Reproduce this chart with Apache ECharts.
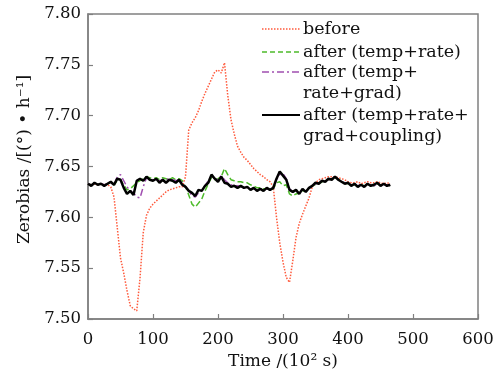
<!DOCTYPE html>
<html>
<head>
<meta charset="utf-8">
<script src="https://cdn.jsdelivr.net/npm/echarts@6/dist/echarts.min.js"></script>
<style>
html,body{margin:0;padding:0;background:#fff;}
#chart{width:499px;height:378px;}
</style>
</head>
<body>
<div id="chart"></div>
<script>
// Time axis (units of 10^2 s)
const times = [0,5,10,15,20,25,30,35,40,45,50,55,60,65,70,75,80,85,90,95,
  100,105,110,115,120,125,130,135,140,145,150,155,160,165,170,175,180,185,190,195,
  200,205,210,215,220,225,230,235,240,245,250,255,260,265,270,275,280,285,290,295,
  300,305,310,315,320,325,330,335,340,345,350,355,360,365,370,375,380,385,390,395,
  400,405,410,415,420,425,430,435,440,445,450,455,460,465];

const beforeVals = [7.633,7.632,7.633,7.632,7.633,7.632,7.632,7.630,7.620,7.590,
  7.560,7.545,7.528,7.513,7.510,7.508,7.540,7.585,7.602,7.609,
  7.613,7.616,7.619,7.622,7.625,7.627,7.628,7.629,7.630,7.630,
  7.640,7.686,7.693,7.698,7.705,7.714,7.722,7.729,7.736,7.743,
  7.745,7.742,7.752,7.720,7.696,7.682,7.670,7.664,7.659,7.656,
  7.652,7.648,7.645,7.642,7.640,7.637,7.635,7.630,7.600,7.575,
  7.556,7.541,7.536,7.557,7.580,7.594,7.603,7.611,7.619,7.630,
  7.634,7.637,7.638,7.639,7.640,7.640,7.640,7.639,7.638,7.637,
  7.635,7.634,7.634,7.635,7.633,7.634,7.635,7.634,7.634,7.635,
  7.634,7.633,7.634,7.633];

const tempRateVals = [7.633,7.632,7.634,7.632,7.633,7.632,7.633,7.634,7.632,7.636,
  7.637,7.632,7.627,7.628,7.631,7.634,7.636,7.638,7.640,7.639,
  7.638,7.639,7.637,7.639,7.638,7.637,7.639,7.637,7.638,7.636,
  7.630,7.622,7.613,7.610,7.614,7.618,7.626,7.633,7.639,7.637,
  7.638,7.640,7.648,7.642,7.637,7.636,7.635,7.635,7.634,7.634,
  7.632,7.631,7.629,7.629,7.628,7.628,7.627,7.628,7.634,7.635,
  7.631,7.632,7.623,7.621,7.623,7.624,7.626,7.626,7.628,7.631,
  7.632,7.633,7.635,7.636,7.637,7.638,7.639,7.638,7.635,7.634,
  7.633,7.632,7.632,7.631,7.632,7.631,7.632,7.632,7.631,7.633,
  7.632,7.632,7.632,7.631];

const tempRateGradVals = [7.633,7.632,7.634,7.632,7.633,7.632,7.633,7.634,7.632,7.640,
  7.642,7.636,7.630,7.626,7.624,7.620,7.619,7.630,7.639,7.638,
  7.637,7.637,7.636,7.637,7.638,7.637,7.637,7.636,7.637,7.634,
  7.630,7.626,7.621,7.620,7.624,7.627,7.631,7.636,7.641,7.638,
  7.637,7.641,7.637,7.634,7.632,7.631,7.631,7.630,7.630,7.629,
  7.628,7.628,7.627,7.628,7.627,7.628,7.627,7.627,7.637,7.642,
  7.643,7.638,7.628,7.625,7.626,7.624,7.627,7.626,7.628,7.631,
  7.633,7.634,7.635,7.636,7.637,7.638,7.639,7.638,7.635,7.634,
  7.633,7.632,7.632,7.631,7.632,7.631,7.632,7.632,7.631,7.633,
  7.632,7.632,7.632,7.631];

const couplingVals = [7.633,7.631,7.634,7.632,7.633,7.631,7.633,7.635,7.632,7.638,
  7.637,7.629,7.623,7.626,7.622,7.636,7.638,7.636,7.640,7.637,
  7.636,7.638,7.634,7.637,7.634,7.637,7.636,7.634,7.637,7.632,
  7.630,7.626,7.624,7.621,7.627,7.626,7.631,7.634,7.642,7.638,
  7.635,7.640,7.634,7.633,7.630,7.631,7.629,7.631,7.629,7.630,
  7.627,7.629,7.626,7.628,7.626,7.629,7.627,7.629,7.638,7.645,
  7.641,7.637,7.627,7.625,7.627,7.623,7.628,7.625,7.629,7.631,
  7.634,7.633,7.636,7.635,7.638,7.637,7.640,7.637,7.635,7.633,
  7.634,7.631,7.633,7.630,7.632,7.630,7.633,7.631,7.632,7.634,
  7.631,7.633,7.631,7.632];

const seriesNames = ['before','after (temp+rate)','after (temp+rate+grad)','after (temp+rate+grad+coupling)'];
const legendLines = [['before'],['after (temp+rate)'],['after (temp+','rate+grad)'],['after (temp+rate+','grad+coupling)']];
const xTicks = [0,100,200,300,400,500,600];
const yTicks = [7.50,7.55,7.60,7.65,7.70,7.75,7.80];

const FONT = 'DejaVu Serif';
const AXIS_COLOR = '#808080';
const TEXT_COLOR = '#111111';
const colors = ['#ff5a3c','#4dbb2a','#a04fb0','#000000'];
const lineTypes = ['dotted','dashed',[7,3,2,3],'solid'];
const widths = [1.5,1.5,1.5,2.5];
const allVals = [beforeVals,tempRateVals,tempRateGradVals,couplingVals];

const pair = vals => times.map((t,i)=>[t, vals[i]]);

const chart = echarts.init(document.getElementById('chart'), null, {renderer:'canvas'});

// legend built as graphic (first line of each entry aligned with its sample line)
const legendY = [29,52,72,115];
const legendLineH = 21;
const legendDash = [[1.5,1.5],[5,3],[7,3,2,3],null];
const graphics = [];
legendLines.forEach((lines,i)=>{
  graphics.push({
    type:'line', silent:true, x:262, y:legendY[i],
    shape:{x1:0,y1:0,x2:38,y2:0},
    style:{stroke:colors[i], lineWidth:i===3?2:1.5, lineDash:legendDash[i]}
  });
  lines.forEach((txt,j)=>{
    graphics.push({
      type:'text', silent:true,
      x:303, y:legendY[i]+j*legendLineH,
      style:{text:txt, font:'17.5px "'+FONT+'"', fill:TEXT_COLOR, verticalAlign:'middle'}
    });
  });
});

chart.setOption({
  animation:false,
  backgroundColor:'#fff',
  grid:{left:88,right:21,top:14,bottom:59,show:true,borderColor:AXIS_COLOR,borderWidth:1.5,backgroundColor:'transparent'},
  xAxis:{
    type:'value', min:xTicks[0], max:xTicks[xTicks.length-1], interval:100,
    axisLine:{show:true,lineStyle:{color:AXIS_COLOR,width:1.5}},
    axisTick:{show:true,inside:true,length:5,lineStyle:{color:AXIS_COLOR,width:1.2}},
    splitLine:{show:false},
    axisLabel:{color:TEXT_COLOR,fontFamily:FONT,fontSize:16.5,margin:12},
    name:'Time /(10² s)', nameLocation:'middle', nameGap:31,
    nameTextStyle:{color:TEXT_COLOR,fontFamily:FONT,fontSize:17}
  },
  yAxis:{
    type:'value', min:yTicks[0], max:yTicks[yTicks.length-1], interval:0.05,
    axisLine:{show:true,lineStyle:{color:AXIS_COLOR,width:1.5}},
    axisTick:{show:true,inside:true,length:5,lineStyle:{color:AXIS_COLOR,width:1.2}},
    splitLine:{show:false},
    axisLabel:{color:TEXT_COLOR,fontFamily:FONT,fontSize:16.5,margin:7,formatter:v=>v.toFixed(2)},
    name:'Zerobias /[(°) • h⁻¹]', nameLocation:'middle', nameGap:53, nameRotate:90,
    nameTextStyle:{color:TEXT_COLOR,fontFamily:FONT,fontSize:17,padding:[0,0,0,14]}
  },
  graphic:graphics,
  series: seriesNames.map((n,i)=>({
    name:n, type:'line', showSymbol:false, symbol:'none',
    data:pair(allVals[i]),
    lineStyle:{color:colors[i], width:widths[i], type:lineTypes[i]},
    itemStyle:{color:colors[i]},
    z:2+i
  }))
});
</script>
</body>
</html>
